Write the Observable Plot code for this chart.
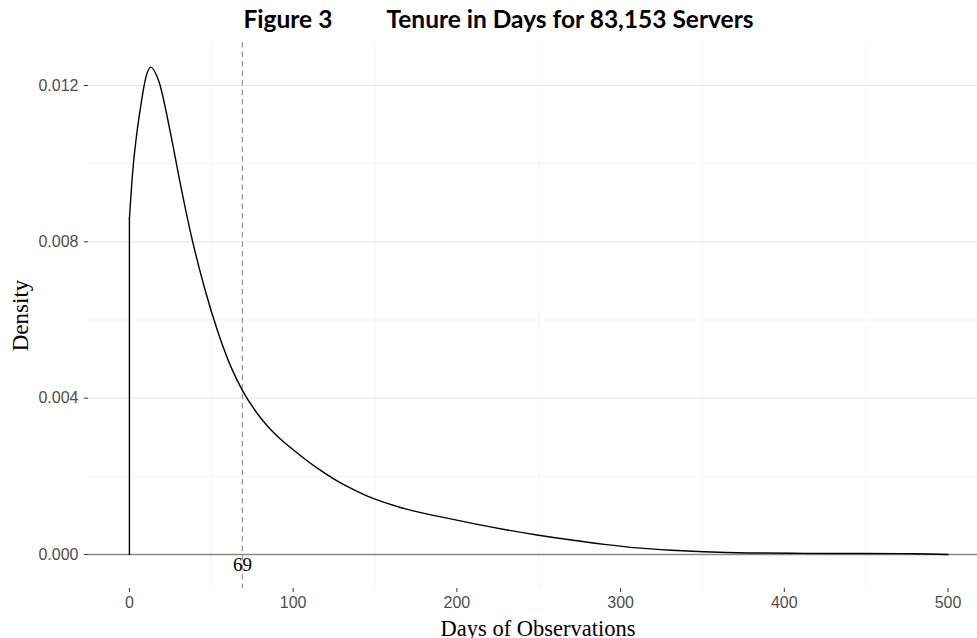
<!DOCTYPE html>
<html>
<head>
<meta charset="utf-8">
<script src="https://cdn.jsdelivr.net/npm/d3@7"></script>
<script src="https://cdn.jsdelivr.net/npm/@observablehq/plot@0.6"></script>
<style>
  html, body { margin: 0; padding: 0; background: #fff; }
</style>
</head>
<body>
<div id="chart"></div>
<script>
// Density estimate
const days = [0, 2, 4, 7, 10, 13, 18, 25, 31, 37, 46, 54, 62, 69, 76, 84, 92, 100, 113, 125, 133, 145, 153, 165, 174, 194, 208, 215, 229, 249, 270, 290, 310, 331, 351, 378, 412, 450, 479, 500];
const density = [0.0086, 0.0098, 0.0106, 0.0115, 0.0122, 0.01247, 0.0121, 0.0108, 0.0095, 0.0083, 0.0068, 0.0057, 0.0048, 0.0042, 0.00373, 0.0033, 0.00296, 0.00268, 0.00226, 0.00193, 0.00174, 0.0015, 0.00137, 0.00121, 0.00111, 0.00093, 0.00081, 0.00075, 0.00064, 0.0005, 0.00037, 0.00026, 0.00017, 0.00011, 0.00007, 0.00004, 0.00003, 0.000025, 0.00002, 0];
const medianDays = [69];
const xTicks = [0, 100, 200, 300, 400, 500];
const xMinor = [50, 150, 250, 350, 450];
const yTicks = [0, 0.004, 0.008, 0.012];
const yMinor = [0.002, 0.006, 0.010];
const titleLeft = "Figure 3";
const titleRight = "Tenure in Days for 83,153 Servers";
const xLabel = "Days of Observations";
const yLabel = "Density";

const curve = days.map((d, i) => ({day: d, density: density[i]}));
const edge = [{day: days[0], density: 0}, {day: days[0], density: density[0]}];

const serif = "'Liberation Serif', 'Times New Roman', serif";
const sans = "'Liberation Sans', Arial, sans-serif";
const titleFont = "Lato, 'Liberation Sans', sans-serif";

const chart = Plot.plot({
  width: 977,
  height: 638,
  marginTop: 42,
  marginBottom: 50,
  marginLeft: 88,
  marginRight: 0,
  style: {fontFamily: sans, fontSize: "16px", color: "#4d4d4d", background: "#fff"},
  x: {domain: [-25, 518], label: null},
  y: {domain: [-0.00087, 0.0131], label: null},
  marks: [
    Plot.ruleY(yMinor, {stroke: "#f3f3f3", strokeWidth: 0.8}),
    Plot.ruleX(xMinor, {stroke: "#f3f3f3", strokeWidth: 0.8}),
    Plot.ruleY(yTicks.filter(v => v > 0), {stroke: "#e6e6e6", strokeWidth: 1}),
    Plot.ruleY([0], {stroke: "#8a8a8a", strokeWidth: 1.3}),
    Plot.ruleX(medianDays, {stroke: "#999999", strokeWidth: 1.3, strokeDasharray: "5.5,4"}),
    Plot.line(edge, {x: "day", y: "density", stroke: "black", strokeWidth: 1.4}),
    Plot.line(curve, {x: "day", y: "density", curve: "monotone-x", stroke: "black", strokeWidth: 1.4}),
    Plot.text(medianDays, {x: d => d, y: d => 0, text: d => String(d), dy: 10, lineAnchor: "middle",
      fontFamily: serif, fontSize: 19, fill: "black"}),
    Plot.axisX(xTicks, {tickSize: 4, tickPadding: 4, stroke: "#333", fill: "#4d4d4d"}),
    Plot.axisY(yTicks, {tickSize: 4, tickPadding: 6, tickFormat: d3.format(".3f"), stroke: "#333", fill: "#4d4d4d"}),
    Plot.text([yLabel], {frameAnchor: "left", dx: -68, rotate: -90, textAnchor: "middle",
      fontFamily: serif, fontSize: 23, fill: "black"}),
    Plot.text([xLabel], {frameAnchor: "bottom", dy: 40, lineAnchor: "middle", dx: 5,
      fontFamily: serif, fontSize: 22.5, fill: "black"}),
    Plot.text([titleLeft], {frameAnchor: "top-left", dx: 155, dy: -22, textAnchor: "start", lineAnchor: "middle",
      fontFamily: titleFont, fontWeight: "bold", fontSize: 24.5, fill: "black"}),
    Plot.text([titleRight], {frameAnchor: "top-left", dx: 298, dy: -22, textAnchor: "start", lineAnchor: "middle",
      fontFamily: titleFont, fontWeight: "bold", fontSize: 24.5, fill: "black"})
  ]
});
document.getElementById("chart").append(chart);
</script>
</body>
</html>
